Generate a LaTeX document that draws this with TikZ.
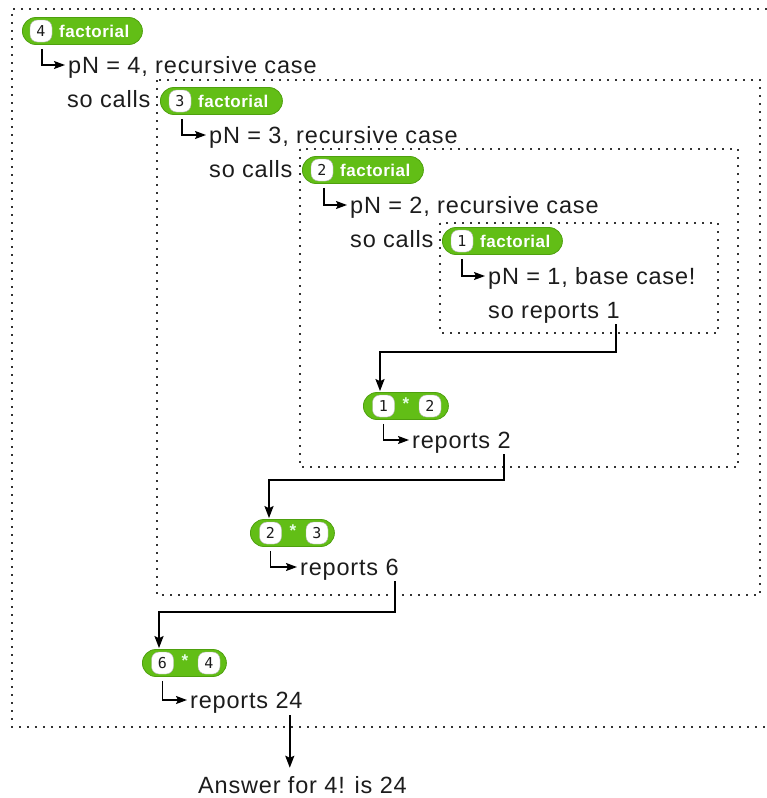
\documentclass[tikz,border=0pt]{standalone}
\usepackage{fontspec}
\setmainfont{Liberation Sans}
\newfontfamily\txtfont{Liberation Sans}[LetterSpace=3.5]
\newfontfamily\blockfont{Liberation Sans}[LetterSpace=3]
\newfontfamily\slotfont{DejaVu Sans Mono}
\usetikzlibrary{arrows.meta}
\definecolor{snapgreen}{RGB}{98,190,22}
\definecolor{snapedge}{RGB}{78,160,14}
\definecolor{ink}{RGB}{28,28,28}
\begin{document}
\begin{tikzpicture}[x=1pt,y=-1pt,
 txt/.style={anchor=base west, inner sep=0pt, font=\txtfont\fontsize{23.5}{27}\selectfont, text=ink},
 pill/.style={draw=snapedge, fill=snapgreen, rounded corners=13.5pt, minimum height=27pt, inner sep=0pt, anchor=west, line width=0.8pt},
 slot/.style={draw=gray!60, fill=white, rounded corners=7.5pt, minimum width=22pt, minimum height=22pt, inner sep=0pt, font=\slotfont\fontsize{15}{15}\selectfont, text=ink},
 flabel/.style={anchor=west, inner sep=0pt, text=white, font=\blockfont\bfseries\fontsize{17}{17}\selectfont},
 multsign/.style={inner sep=0pt, text=white!90!green, font=\bfseries\fontsize{17}{17}\selectfont},
 dotbox/.style={draw=black!80, line width=1.9pt, dash pattern=on 1.6pt off 6.4pt},
 conn/.style={draw=black, line width=1.8pt, -{Stealth[length=12pt,width=9pt,inset=2pt]}},
 corner/.style={draw=black, line width=1.6pt, -{Stealth[length=11pt,width=8pt,inset=2pt]}}
]
\useasboundingbox (0,0) rectangle (767,798);

% dotted frames
\draw[dotbox] (767,9) -- (12,9) -- (12,727) -- (767,727);
\draw[dotbox] (157,80) rectangle (760,595);
\draw[dotbox] (300,149) rectangle (738,467);
\draw[dotbox] (440,223) rectangle (718,333);

% level n = 4
\node[pill, minimum width=120pt] (p4) at (22,31) {};
\node[slot] (s4) at (41,31) {4};
\node[flabel] (f4) at (59,31) {factorial};
\node[txt] (t4) at (68,73) {pN = 4, recursive case};
\node[txt] (c4) at (67,107) {so calls};
\draw[corner] ([xshift=20pt,yshift=-4pt]p4.south west) |- ([xshift=-3pt,yshift=8pt]t4.base west);

% level n = 3
\node[pill, minimum width=122pt] (p3) at (160,101) {};
\node[slot] (s3) at (180,101) {3};
\node[flabel] (f3) at (198,101) {factorial};
\node[txt] (t3) at (209,143) {pN = 3, recursive case};
\node[txt] (c3) at (209,177) {so calls};
\draw[corner] ([xshift=22pt,yshift=-4pt]p3.south west) |- ([xshift=-3pt,yshift=8pt]t3.base west);

% level n = 2
\node[pill, minimum width=121pt] (p2) at (302,170) {};
\node[slot] (s2) at (322,170) {2};
\node[flabel] (f2) at (340,170) {factorial};
\node[txt] (t2) at (350,213) {pN = 2, recursive case};
\node[txt] (c2) at (350,247) {so calls};
\draw[corner] ([xshift=22pt,yshift=-4pt]p2.south west) |- ([xshift=-3pt,yshift=8pt]t2.base west);

% level n = 1
\node[pill, minimum width=120pt] (p1) at (442,241) {};
\node[slot] (s1) at (462,241) {1};
\node[flabel] (f1) at (480,241) {factorial};
\node[txt] (t1) at (488,284) {pN = 1, base case!};
\node[txt] (r1) at (488,318) {so reports 1};
\draw[corner] ([xshift=20pt,yshift=-4pt]p1.south west) |- ([xshift=-3pt,yshift=8pt]t1.base west);

% 1 * 2
\node[pill, minimum width=85pt] (m12) at (363,406) {};
\node[slot] (m12a) at (383.5,406) {1};
\node[multsign] (m12s) at (406,404) {*};
\node[slot] (m12b) at (430,406) {2};
\node[txt] (rep2) at (412,448) {reports 2};
\draw[corner] ([xshift=20.5pt,yshift=-4pt]m12.south west) |- ([xshift=-3pt,yshift=8pt]rep2.base west);

% 2 * 3
\node[pill, minimum width=84pt] (m23) at (250,533) {};
\node[slot] (m23a) at (270.5,533) {2};
\node[multsign] (m23s) at (293,531) {*};
\node[slot] (m23b) at (317,533) {3};
\node[txt] (rep6) at (300,575) {reports 6};
\draw[corner] ([xshift=20.5pt,yshift=-4pt]m23.south west) |- ([xshift=-3pt,yshift=8pt]rep6.base west);

% 6 * 4
\node[pill, minimum width=84pt] (m64) at (142,663) {};
\node[slot] (m64a) at (162.5,663) {6};
\node[multsign] (m64s) at (185,661) {*};
\node[slot] (m64b) at (209,663) {4};
\node[txt] (rep24) at (190,708) {reports 24};
\draw[corner] ([xshift=20.5pt,yshift=-4pt]m64.south west) |- ([xshift=-3pt,yshift=8pt]rep24.base west);

% answer
\node[txt] (ans) at (198,793) {Answer for 4! is 24};

% connectors
\draw[conn] ([xshift=-4pt,yshift=-1pt]r1.south east) |- ([xshift=17pt,yshift=40.5pt]m12.north west) -- ([xshift=17pt,yshift=1pt]m12.north west);
\draw[conn] ([xshift=-7pt,yshift=-1pt]rep2.south east) |- ([xshift=19pt,yshift=39.5pt]m23.north west) -- ([xshift=19pt,yshift=1pt]m23.north west);
\draw[conn] ([xshift=-4pt,yshift=-1pt]rep6.south east) |- ([xshift=17pt,yshift=37.5pt]m64.north west) -- ([xshift=17pt,yshift=1pt]m64.north west);
\draw[conn] ([xshift=-13pt,yshift=-2pt]rep24.south east) -- ([xshift=-13pt,yshift=8pt]rep24.south east |- ans.north);
\end{tikzpicture}
\end{document}
